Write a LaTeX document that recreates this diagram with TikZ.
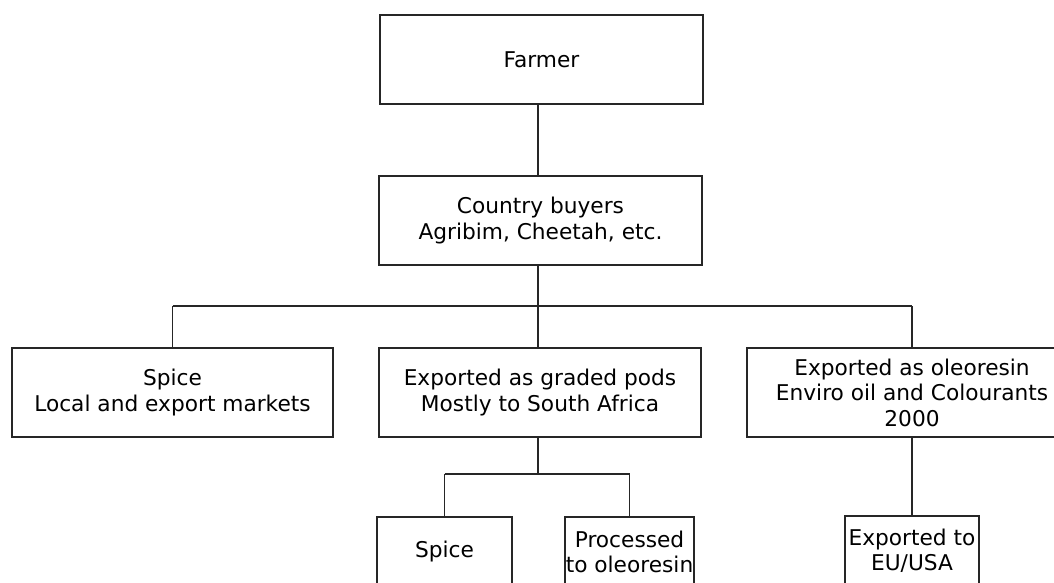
\documentclass[tikz,border=0pt]{standalone}
\usepackage{fontspec}
\setmainfont{DejaVu Sans}
\begin{document}
\begin{tikzpicture}[x=1pt,y=-1pt,
  box/.style={draw=black!85, line width=1.1pt, inner sep=0pt, align=center,
    font=\fontsize{21.7}{25.5}\selectfont},
  link/.style={draw=black!85, line width=1.1pt}]
\useasboundingbox (0,0) rectangle (1054,583);
\clip (0,0) rectangle (1054,583);
\node[box, minimum width=323pt, minimum height=89pt] (F) at (541.5,59.5) {Farmer};
\node[box, minimum width=323pt, minimum height=89pt] (CB) at (540.5,220.5) {Country buyers\\Agribim, Cheetah, etc.};
\node[box, minimum width=321pt, minimum height=89pt] (S) at (172.5,392.5) {Spice\\Local and export markets};
\node[box, minimum width=322pt, minimum height=89pt] (G) at (540,392.5) {Exported as graded pods\\Mostly to South Africa};
\node[box, minimum width=330pt, minimum height=89pt] (O) at (912,392.5) {Exported as oleoresin\\Enviro oil and Colourants\\2000};
\node[box, minimum width=135pt, minimum height=70pt] (S2) at (444.5,552) {Spice};
\node[box, minimum width=129pt, minimum height=70pt] (P) at (629.5,552) {Processed\\to oleoresin};
\node[box, minimum width=134pt, minimum height=70pt] (E) at (912,551) {Exported to\\EU/USA};
\coordinate (top) at (538,0);
\coordinate (b1) at (0,306);
\coordinate (b2) at (0,474);
\draw[link] (F.south -| top) -- (CB.north -| top);
\draw[link] (CB.south -| top) -- (b1 -| top);
\draw[link] (b1 -| S.north) -- (b1 -| O.north);
\draw[link] (b1 -| S.north) -- (S.north);
\draw[link] (b1 -| top) -- (G.north -| top);
\draw[link] (b1 -| O.north) -- (O.north);
\draw[link] (G.south -| top) -- (b2 -| top);
\draw[link] (b2 -| S2.north) -- (b2 -| P.north);
\draw[link] (b2 -| S2.north) -- (S2.north);
\draw[link] (b2 -| P.north) -- (P.north);
\draw[link] (O.south) -- (E.north);
\end{tikzpicture}
\end{document}
